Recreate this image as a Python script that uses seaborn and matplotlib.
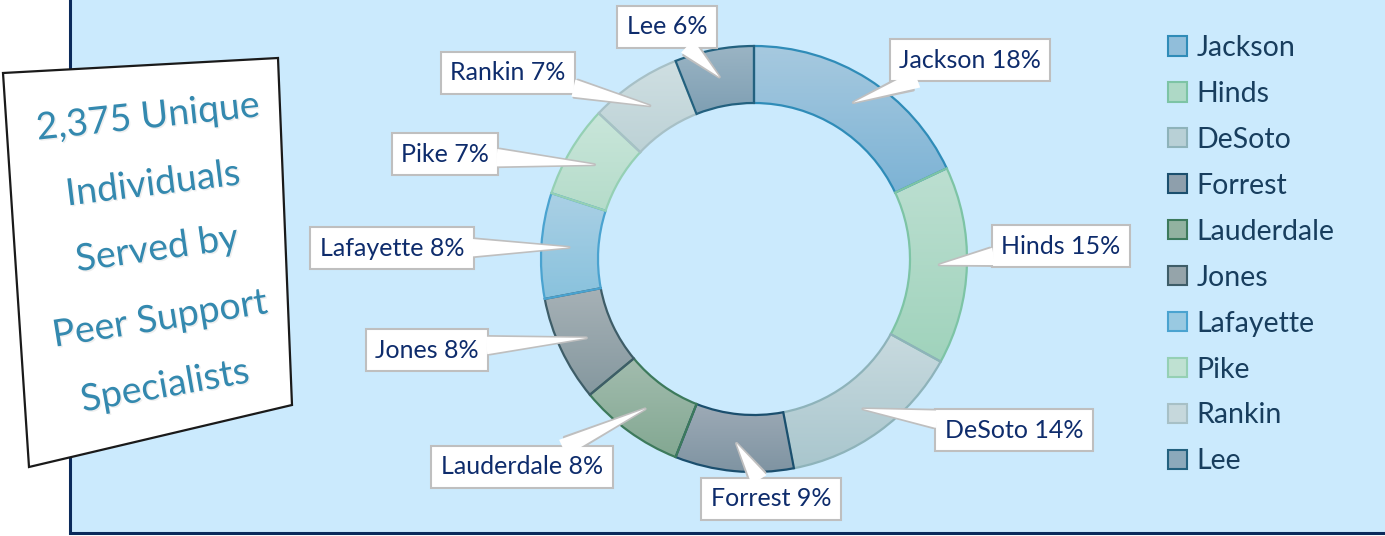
import numpy as np
import matplotlib
matplotlib.use('Agg')
import matplotlib.pyplot as plt
import matplotlib.patheffects as pe
import seaborn as sns
from matplotlib.patches import Polygon, Rectangle, Patch
from matplotlib.colors import LinearSegmentedColormap

sns.set_theme(style='white')
plt.rcParams['font.family'] = ['Lato', 'DejaVu Sans']

# Dados do gráfico
counties = ['Jackson', 'Hinds', 'DeSoto', 'Forrest', 'Lauderdale',
            'Jones', 'Lafayette', 'Pike', 'Rankin', 'Lee']
shares = [18, 15, 14, 9, 8, 8, 8, 7, 7, 6]
headline = ['2,375 Unique', 'Individuals', 'Served by', 'Peer Support', 'Specialists']

# Cores (topo / base do gradiente, borda)
top_colors = ['#A6C9DF', '#BCDFD1', '#C8DADF', '#9DAAB6', '#A2BCAE',
              '#A6B1B6', '#AAD0E5', '#C9E6DA', '#CFDFE2', '#9AB4C4']
bottom_colors = ['#7DB3D5', '#A0D3BC', '#A9C6CD', '#7F94A2', '#83A892',
                 '#85989F', '#89C2DD', '#B5DCCA', '#BDD2D6', '#7F9FB3']
edge_colors = ['#2F8CB8', '#7DC4A5', '#8EB3BA', '#1B4F6E', '#3D7A5C',
               '#3E5D68', '#4AA3D0', '#95D0B4', '#A7C0C6', '#23617F']

# Posições das caixas de rótulo (px)
label_pos = [(970, 60), (1061, 246), (1014, 430), (771, 499), (522, 467),
             (427, 350), (392, 248), (445, 154), (508, 73), (667, 27)]
headline_pos = [(148, 117, 6), (153, 184, 7), (157, 249, 8), (160, 319, 9), (165, 386, 10)]

W, H = 1385, 536
fig = plt.figure(figsize=(W / 100, H / 100), dpi=100)
ax = fig.add_axes([0, 0, 1, 1])

# Painel de fundo
ax.add_patch(Rectangle((70, -10), W, 543, facecolor='#CBEAFD', edgecolor='#0B2A5B',
                       linewidth=2.2, zorder=0))

# Rosca
cx, cy, R = 754, 259, 213
wedges, _ = ax.pie(shares, startangle=-90, counterclock=True, center=(cx, cy), radius=R,
                   colors=top_colors, wedgeprops=dict(width=57, linewidth=1.6))

for w, c0, c1, ec in zip(wedges, top_colors, bottom_colors, edge_colors):
    ext = w.get_path().get_extents()
    cmap = LinearSegmentedColormap.from_list('g', [c0, c1])
    grad = np.linspace(0, 1, 64)[:, None]
    im = ax.imshow(grad, cmap=cmap, extent=[ext.x0, ext.x1, ext.y1, ext.y0], origin='upper',
                   aspect='auto', interpolation='bilinear', zorder=1)
    im.set_clip_path(w)
    w.set_facecolor('none')
    w.set_edgecolor(ec)
    w.set_zorder(2)

# Rótulos com chamada
pointer = 'wedge,tail_width=0.7,shrink_factor=0.5'
for w, name, pct, (lx, ly) in zip(wedges, counties, shares, label_pos):
    th = np.deg2rad((w.theta1 + w.theta2) / 2)
    tip = (cx + 0.87 * R * np.cos(th), cy + 0.87 * R * np.sin(th))
    txt = f'{name} {pct}%'
    ax.annotate(txt, xy=tip, xytext=(lx, ly), ha='center', va='center',
                fontsize=18, color='#0E2C6C', zorder=4,
                bbox=dict(boxstyle='square,pad=0.38', fc='white', ec='#BFBFBF', lw=1.5),
                arrowprops=dict(arrowstyle=pointer, fc='white', ec='#BFBFBF', lw=2.2,
                                shrinkA=0, shrinkB=0))
    # cobre a borda da caixa na base da chamada
    ax.annotate(txt, xy=tip, xytext=(lx, ly), ha='center', va='center',
                fontsize=18, color='none', zorder=4.5,
                bbox=dict(boxstyle='square,pad=0.31', fc='none', ec='none'),
                arrowprops=dict(arrowstyle=pointer, fc='white', ec='none', lw=0,
                                shrinkA=0, shrinkB=0))

# Caixa inclinada com o destaque
ax.add_patch(Polygon([(3, 73), (278, 58), (292, 405), (29, 467)], closed=True,
                     facecolor='white', edgecolor='#1A1A1A', linewidth=1.6, zorder=5))
shadow = [pe.withSimplePatchShadow(offset=(1, -1), shadow_rgbFace='#777777', alpha=0.12)]
for txt, (tx, ty, rot) in zip(headline, headline_pos):
    ax.text(tx, ty, txt, ha='center', va='center', rotation=rot, rotation_mode='anchor',
            fontsize=27, color='#3489AF', zorder=6, path_effects=shadow)

# Legenda
legend_colors = [sns.blend_palette([a, b], 3)[1] for a, b in zip(top_colors, bottom_colors)]
handles = [Patch(facecolor=c, edgecolor=e, linewidth=1.5) for c, e in zip(legend_colors, edge_colors)]
leg = ax.legend(handles, counties, loc='upper left', bbox_to_anchor=(1168 / W, 1 - 35 / H),
                frameon=False, fontsize=20.5, handlelength=0.66, handleheight=0.66,
                handletextpad=0.35, labelspacing=0.70, borderpad=0, borderaxespad=0)
for t in leg.get_texts():
    t.set_color('#183E5E')

ax.set_xlim(0, W)
ax.set_ylim(H, 0)
ax.axis('off')

fig.savefig('out.png', dpi=100, facecolor='white')
